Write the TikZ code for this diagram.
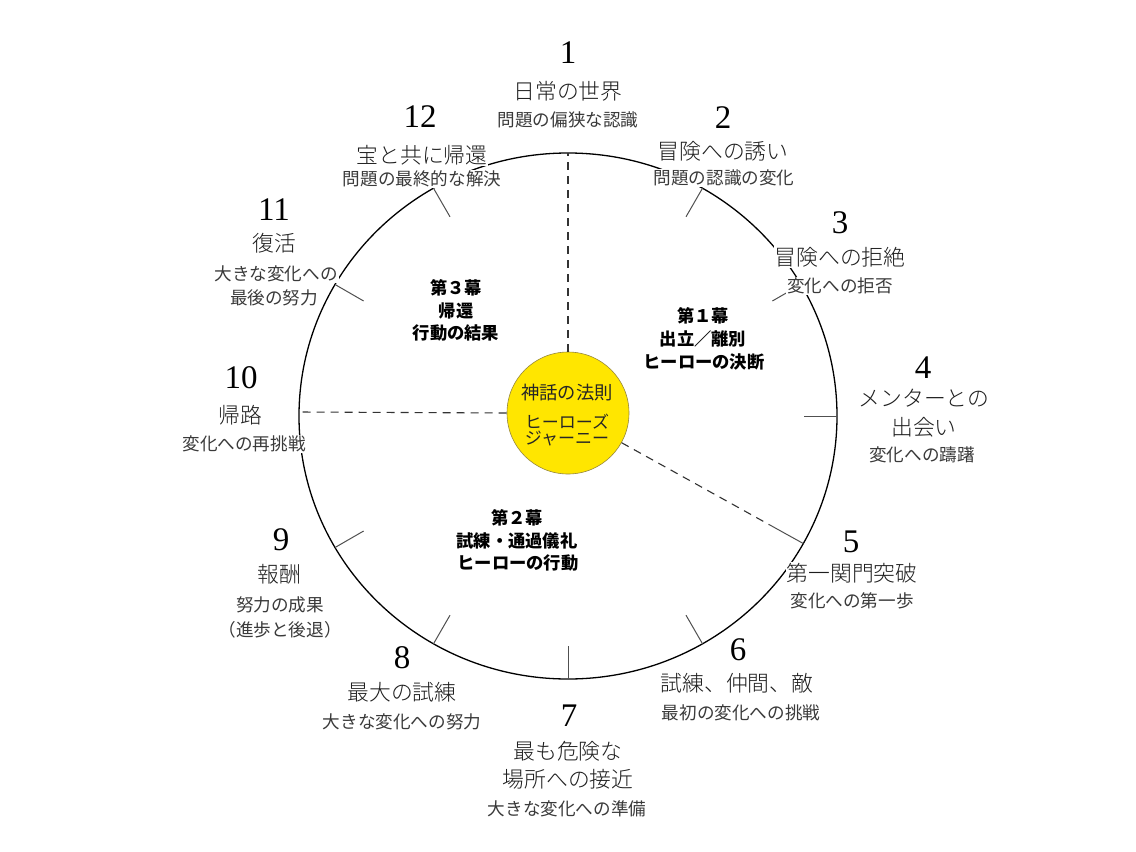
\documentclass[tikz,border=0pt]{standalone}
\usepackage{fontspec}
\newfontfamily\jp{Noto Sans CJK JP}
\newfontfamily\jpl{Noto Sans CJK JP Light}
\newfontfamily\numf{Liberation Serif}
\definecolor{titlec}{HTML}{1E1E1E}
\definecolor{subc}{HTML}{3A3A3A}
\definecolor{tickc}{HTML}{505050}
\definecolor{coref}{RGB}{255,230,0}
\definecolor{cored}{RGB}{150,135,60}
\begin{document}
\begin{tikzpicture}[x=1pt,y=-1pt,
  num/.style={font=\numf\fontsize{33}{33}\selectfont, text=black, inner sep=0.5pt},
  ttl/.style={font=\jpl\fontsize{21.8}{24}\selectfont, text=titlec, fill=white, inner sep=1pt},
  sub/.style={font=\jp\fontsize{17.6}{20}\selectfont, text=subc, fill=white, inner sep=1pt},
  act/.style={font=\jp\bfseries\fontsize{17.3}{20}\selectfont, text=black, inner sep=0.5pt},
  coretxt/.style={font=\jp\fontsize{18.3}{20}\selectfont, text=black!85, inner sep=0.5pt},
  ring/.style={line width=1.3pt, draw=black},
  tickline/.style={line width=1pt, draw=tickc},
  dashline/.style={line width=1.1pt, draw=black!80, dash pattern=on 8pt off 6pt}]
\useasboundingbox (0,0) rectangle (1136,852);
\fill[white] (0,0) rectangle (1136,852);

% outer ring
\draw[ring] (568,416) ellipse [x radius=269pt, y radius=263pt];

% tick marks
\foreach \n/\a in {2/60,3/30,4/0,6/-60,7/-90,8/-120,9/-150,11/150,12/120}{
  \coordinate (o\n) at ({568+269*cos(\a)},{416-263*sin(\a)});
  \coordinate (i\n) at ({568+236*cos(\a)},{416-230*sin(\a)});
  \draw[tickline] (i\n) -- (o\n);
}
\coordinate (o5) at ({568+269*cos(-29)},{416-263*sin(-29)});
\coordinate (i5) at ({568+230*cos(-29)},{416-224*sin(-29)});
\draw[tickline] (i5) -- (o5);
\coordinate (o1) at (568,153);
\coordinate (o10) at (299,412);

% centre
\node[circle, minimum size=122pt, inner sep=0pt, fill=coref, draw=cored, line width=0.6pt] (core) at (568,413) {};
\draw[dashline] (core.north) -- (o1);
\draw[dashline] (core.west) -- (o10);
\draw[dashline] (core.-29) -- (i5);
\node[coretxt] (c1) at (567,393) {神話の法則};
\node[coretxt, font=\jp\fontsize{17}{18}\selectfont] (c2) at (567,422) {ヒーローズ};
\node[coretxt, font=\jp\fontsize{17}{18}\selectfont] (c3) at (567,439) {ジャーニー};

% acts
\node[act] (a3a) at (456,288) {第３幕};
\node[act] (a3b) at (456,311) {帰還};
\node[act] (a3c) at (456,333) {行動の結果};
\node[act] (a1a) at (703,316) {第１幕};
\node[act] (a1b) at (703,339) {出立／離別};
\node[act] (a1c) at (704,362) {ヒーローの決断};
\node[act] (a2a) at (517,518) {第２幕};
\node[act] (a2b) at (517,541) {試練・通過儀礼};
\node[act] (a2c) at (518,563) {ヒーローの行動};

% 1
\node[num] (n1) at (568,53) {1};
\node[ttl] (t1) at (568,91) {日常の世界};
\node[sub] (s1) at (568,120) {問題の偏狭な認識};
% 2
\node[num] (n2) at (723,118) {2};
\node[ttl] (t2) at (723,151) {冒険への誘い};
\node[sub] (s2) at (724,178) {問題の認識の変化};
% 3
\node[num] (n3) at (840,223) {3};
\node[ttl] (t3) at (840,257) {冒険への拒絶};
\node[sub] (s3) at (840,286) {変化への拒否};
% 4
\node[num] (n4) at (923,368) {4};
\node[ttl] (t4a) at (924,398) {メンターとの};
\node[ttl] (t4b) at (924,427) {出会い};
\node[sub] (s4) at (922,455) {変化への躊躇};
% 5
\node[num] (n5) at (851,542) {5};
\node[ttl] (t5) at (852,573) {第一関門突破};
\node[sub] (s5) at (852,601) {変化への第一歩};
% 6
\node[num] (n6) at (738,650) {6};
\node[ttl] (t6) at (737,683) {試練、仲間、敵};
\node[sub] (s6) at (741,713) {最初の変化への挑戦};
% 7
\node[num] (n7) at (569,716) {7};
\node[ttl] (t7a) at (568,751) {最も危険な};
\node[ttl] (t7b) at (568,779) {場所への接近};
\node[sub] (s7) at (567,809) {大きな変化への準備};
% 8
\node[num] (n8) at (402,658) {8};
\node[ttl] (t8) at (402,692) {最大の試練};
\node[sub] (s8) at (402,722) {大きな変化への努力};
% 9
\node[num] (n9) at (281,540) {9};
\node[ttl] (t9) at (279,574) {報酬};
\node[sub] (s9a) at (280,605) {努力の成果};
\node[sub] (s9b) at (280,630) {（進歩と後退）};
% 10
\node[num] (n10) at (241,378) {10};
\node[ttl] (t10) at (240,415) {帰路};
\node[sub] (s10) at (244,444) {変化への再挑戦};
% 11
\node[num] (n11) at (274,210) {11};
\node[ttl] (t11) at (274,243) {復活};
\node[sub] (s11a) at (276,274) {大きな変化への};
\node[sub] (s11b) at (274,298) {最後の努力};
% 12
\node[num] (n12) at (420,117) {12};
\node[ttl] (t12) at (422,155) {宝と共に帰還};
\node[sub] (s12) at (422,179) {問題の最終的な解決};
\end{tikzpicture}
\end{document}
